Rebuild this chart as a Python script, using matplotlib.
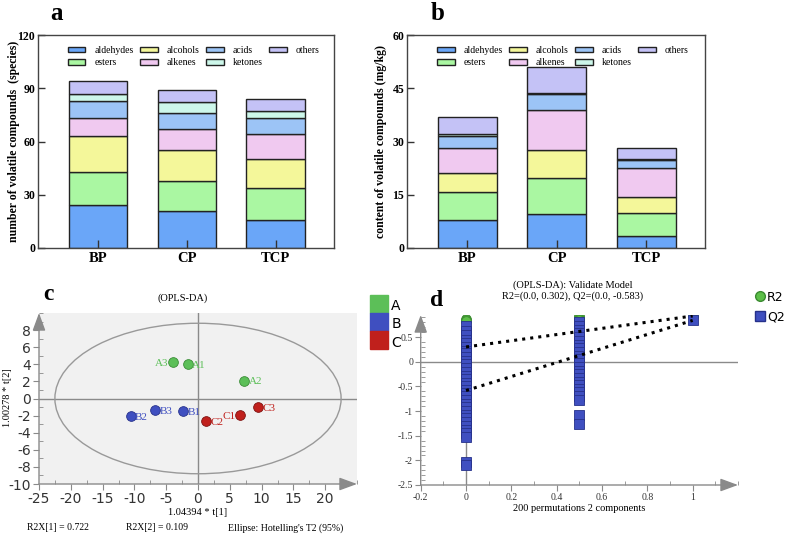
import numpy as np
import matplotlib
matplotlib.use('Agg')
import matplotlib.pyplot as plt
from matplotlib.lines import Line2D
from matplotlib.patches import Ellipse
from matplotlib.ticker import MultipleLocator, FormatStrFormatter

plt.rcParams['axes.unicode_minus'] = False

W, H = 788, 535
SERIF = 'Liberation Serif'

# panel a / b data
groups = ['BP', 'CP', 'TCP']
classes = ['aldehydes', 'esters', 'alcohols', 'alkenes', 'acids', 'ketones', 'others']
class_colors = ['#6aa6f8', '#aaf7a2', '#f4f79a', '#f0c9f0', '#9cc4f6', '#cdf7ea', '#c4c2f6']

aldehydes_n = [24, 21, 16]
esters_n = [19, 17, 18]
alcohols_n = [20, 17, 16]
alkenes_n = [10, 12, 14]
acids_n = [10, 9, 9]
ketones_n = [4, 6, 4]
others_n = [7, 7, 7]

aldehydes_c = [7.8, 9.5, 3.5]
esters_c = [8.0, 10.1, 6.3]
alcohols_c = [5.2, 8.1, 4.7]
alkenes_c = [7.2, 11.2, 8.1]
acids_c = [3.4, 4.4, 2.1]
ketones_c = [0.6, 0.5, 0.4]
others_c = [4.6, 7.1, 3.1]

# panel c data (OPLS-DA scores)
score_names = ['A1', 'A2', 'A3', 'B1', 'B2', 'B3', 'C1', 'C2', 'C3']
score_group = ['A', 'A', 'A', 'B', 'B', 'B', 'C', 'C', 'C']
t1 = [-1.6, 7.3, -4.0, -2.4, -10.6, -6.7, 6.6, 1.3, 9.4]
t2 = [4.0, 2.1, 4.3, -1.5, -2.05, -1.35, -1.9, -2.65, -1.05]
group_colors = {'A': '#5cbf58', 'B': '#3f4fc0', 'C': '#c0201c'}
group_edges = {'A': '#3a8c36', 'B': '#26318a', 'C': '#7d1210'}
label_left = ['A3', 'C1']

# panel d data (permutation test)
r2_x = [0, 0, 0, 0, 0, 0, 0, 0, 0.5, 0.5, 0.5, 0.5, 1]
r2_y = [0.86, 0.84, 0.82, 0.62, 0.58, 0.5, 0.42, 0.35, 0.92, 0.9, 0.87, 0.84, 0.93]
q2_x0 = [0.72, 0.62, 0.55, 0.45, 0.38, 0.3, 0.22, 0.17, 0.1, 0.02, -0.05, -0.12,
         -0.2, -0.28, -0.35, -0.42, -0.5, -0.57, -0.63, -0.7, -0.78, -0.85, -0.92,
         -1.0, -1.08, -1.15, -1.22, -1.3, -1.38, -1.45, -1.52, -2.03, -2.1]
q2_x05 = [0.8, 0.72, 0.65, 0.58, 0.5, 0.42, 0.35, 0.28, 0.2, 0.12, 0.05, -0.02,
          -0.1, -0.18, -0.25, -0.32, -0.4, -0.48, -0.55, -0.62, -0.7, -0.78,
          -1.07, -1.27]
q2_orig = 0.84
r2_line = [0.302, 0.93]
q2_line = [-0.583, 0.84]
line_x = [0, 1]

fig = plt.figure(figsize=(W / 100, H / 100), dpi=100)


def stacked(ax, series, ymax, step, ylabel, label_x):
    x = np.arange(len(groups))
    bottom = np.zeros(len(groups))
    for name, vals, col in zip(classes, series, class_colors):
        ax.bar(x, vals, 0.66, bottom=bottom, color=col, edgecolor='#222222',
               linewidth=1, label=name)
        bottom += np.array(vals)
    ax.set_xlim(-0.675, 2.655)
    ax.set_ylim(0, ymax)
    ax.set_yticks(np.arange(0, ymax + 1, step))
    ax.set_xticks(x)
    ax.set_xticklabels(groups)
    ax.tick_params(axis='x', direction='in', length=6, width=1, color='#333333', pad=3)
    ax.tick_params(axis='y', direction='in', length=5, width=1, color='#333333', pad=2)
    for lab in ax.get_xticklabels():
        lab.set_fontfamily(SERIF)
        lab.set_fontweight('bold')
        lab.set_fontsize(10.5)
    for lab in ax.get_yticklabels():
        lab.set_fontfamily(SERIF)
        lab.set_fontweight('bold')
        lab.set_fontsize(8.5)
    for sp in ax.spines.values():
        sp.set_color('#444444')
        sp.set_linewidth(1)
    ax.set_ylabel(ylabel, fontfamily=SERIF, fontweight='bold', fontsize=8.5)
    ax.yaxis.set_label_coords(label_x, 0.5)
    ax.legend(ncol=4, loc='upper left', bbox_to_anchor=(0.075, 0.985), frameon=False,
              prop={'family': SERIF, 'size': 7}, handlelength=1.8, handleheight=0.45,
              handletextpad=0.9, columnspacing=0.7, labelspacing=0.35, borderpad=0.3)


ax_a = fig.add_axes([38 / W, 1 - 248 / H, 296 / W, 213 / H])
stacked(ax_a, [aldehydes_n, esters_n, alcohols_n, alkenes_n, acids_n, ketones_n, others_n],
        120, 30, 'number of volatile compounds  (species)', -0.062)
fig.text(57 / W, 1 - 14 / H, 'a', fontfamily=SERIF, fontweight='bold', fontsize=18,
         ha='center', va='center')

ax_b = fig.add_axes([407 / W, 1 - 248 / H, 298 / W, 213 / H])
stacked(ax_b, [aldehydes_c, esters_c, alcohols_c, alkenes_c, acids_c, ketones_c, others_c],
        60, 15, 'content of volatile compounds (mg/kg)', -0.068)
fig.text(438 / W, 1 - 14 / H, 'b', fontfamily=SERIF, fontweight='bold', fontsize=18,
         ha='center', va='center')


def arrow_axes(ax):
    for sp in ax.spines.values():
        sp.set_visible(False)
    style = '-|>,head_length=0.6,head_width=0.22'
    kw = dict(arrowstyle=style, color='#8a8a8a', lw=1, mutation_scale=18,
              shrinkA=0, shrinkB=0)
    ax.annotate('', xy=(1, 0), xytext=(0, 0), xycoords='axes fraction', arrowprops=kw)
    ax.annotate('', xy=(0, 1), xytext=(0, 0), xycoords='axes fraction', arrowprops=kw)


# panel c
ax_c = fig.add_axes([39 / W, 1 - 484 / H, 318 / W, 171 / H])
ax_c.set_facecolor('#f1f1f1')
ax_c.set_xlim(-25, 25)
ax_c.set_ylim(-10, 10)
arrow_axes(ax_c)
ax_c.axhline(0, color='#8a8a8a', lw=1, zorder=1)
ax_c.axvline(0, color='#8a8a8a', lw=1, zorder=1)
ax_c.add_patch(Ellipse((0, 0), 45, 17.6, fill=False, edgecolor='#999999', lw=1, zorder=1))
for name, g, x, y in zip(score_names, score_group, t1, t2):
    ax_c.plot(x, y, 'o', ms=7, color=group_colors[g], mec=group_edges[g], mew=0.6, zorder=3)
    if name in label_left:
        ax_c.text(x - 0.7, y - 0.15, name, color=group_colors[g], fontfamily=SERIF,
                  fontsize=8, ha='right', va='center')
    else:
        ax_c.text(x + 0.7, y - 0.15, name, color=group_colors[g], fontfamily=SERIF,
                  fontsize=8, ha='left', va='center')
ax_c.set_xticks(np.arange(-25, 21, 5))
ax_c.set_yticks(np.arange(-10, 9, 2))
ax_c.xaxis.set_minor_locator(MultipleLocator(2.5))
ax_c.yaxis.set_minor_locator(MultipleLocator(1))
ax_c.tick_params(which='major', direction='out', length=4, color='#8a8a8a',
                 labelsize=10, labelcolor='#333333', pad=2)
ax_c.tick_params(which='minor', direction='in', length=3, color='#8a8a8a')
ax_c.set_xlabel('1.04394 * t[1]', fontfamily=SERIF, fontsize=7.5, labelpad=1)
fig.text(7 / W, 1 - 398 / H, '1.00278 * t[2]', fontfamily=SERIF, fontsize=7.5,
         rotation=90, ha='center', va='center')
fig.text(183 / W, 1 - 298 / H, '(OPLS-DA)', fontfamily=SERIF, fontsize=7.5,
         ha='center', va='center')
fig.text(48 / W, 1 - 295 / H, 'c', fontfamily=SERIF, fontweight='bold', fontsize=17,
         ha='center', va='center')
fig.text(27 / W, 1 - 528 / H, 'R2X[1] = 0.722', fontfamily=SERIF, fontsize=7,
         ha='left', va='center')
fig.text(126 / W, 1 - 528 / H, 'R2X[2] = 0.109', fontfamily=SERIF, fontsize=7,
         ha='left', va='center')
fig.text(228 / W, 1 - 528 / H, "Ellipse: Hotelling's T2 (95%)", fontfamily=SERIF,
         fontsize=7, ha='left', va='center')

c_handles = [Line2D([], [], ls='none', marker='s', ms=13.5, color=group_colors[g],
                    mec=group_colors[g]) for g in ['A', 'B', 'C']]
fig.legend(c_handles, ['A', 'B', 'C'], loc='upper left',
           bbox_to_anchor=(362 / W, 1 - 288 / H), frameon=False, fontsize=10,
           handlelength=1.0, handleheight=1.4, handletextpad=0.4, labelspacing=0.15,
           borderpad=0.2)

# panel d
ax_d = fig.add_axes([420.7 / W, 1 - 485 / H, 317.3 / W, 170 / H])
ax_d.set_xlim(-0.2, 1.2)
ax_d.set_ylim(-2.5, 0.95)
arrow_axes(ax_d)
ax_d.axhline(0, color='#8a8a8a', lw=1, zorder=1)
ax_d.axvline(0, color='#8a8a8a', lw=1, zorder=1)
ax_d.plot(r2_x, r2_y, 'o', ms=7, color='#5cbf48', mec='#3a8a30', mew=0.6, zorder=3)
ax_d.plot([0] * len(q2_x0), q2_x0, 's', ms=6.5, color='#3f4fc0', mec='#26318a',
          mew=0.6, zorder=4)
ax_d.plot([0.5] * len(q2_x05), q2_x05, 's', ms=6.5, color='#3f4fc0', mec='#26318a',
          mew=0.6, zorder=4)
ax_d.plot(1, q2_orig, 's', ms=6.5, color='#3f4fc0', mec='#26318a', mew=0.6, zorder=4)
ax_d.plot(line_x, r2_line, ':', color='black', lw=2.2, zorder=5)
ax_d.plot(line_x, q2_line, ':', color='black', lw=2.2, zorder=5)
ax_d.set_xticks(np.arange(-0.2, 1.01, 0.2))
ax_d.set_yticks(np.arange(-2.5, 0.51, 0.5))
ax_d.xaxis.set_minor_locator(MultipleLocator(0.1))
ax_d.yaxis.set_minor_locator(MultipleLocator(0.1))
ax_d.xaxis.set_major_formatter(FormatStrFormatter('%g'))
ax_d.yaxis.set_major_formatter(FormatStrFormatter('%g'))
ax_d.tick_params(which='major', direction='out', length=4, color='#8a8a8a',
                 labelsize=7, labelcolor='#333333', pad=1.5)
ax_d.tick_params(which='minor', direction='in', length=3, color='#8a8a8a')
for lab in ax_d.get_xticklabels() + ax_d.get_yticklabels():
    lab.set_fontfamily(SERIF)
ax_d.set_xlabel('200 permutations 2 components', fontfamily=SERIF, fontsize=7.5,
                labelpad=2)
fig.text(573 / W, 1 - 291 / H, '(OPLS-DA): Validate Model\nR2=(0.0, 0.302), Q2=(0.0, -0.583)',
         fontfamily=SERIF, fontsize=7.5, ha='center', va='center', linespacing=1.15)
fig.text(437 / W, 1 - 300 / H, 'd', fontfamily=SERIF, fontweight='bold', fontsize=17,
         ha='center', va='center')

d_handles = [Line2D([], [], ls='none', marker='o', ms=7, color='#5cbf48', mec='#3a8a30'),
             Line2D([], [], ls='none', marker='s', ms=6.5, color='#3f4fc0', mec='#26318a')]
fig.legend(d_handles, ['R2', 'Q2'], loc='upper left', bbox_to_anchor=(747 / W, 1 - 282 / H),
           frameon=False, fontsize=9, handlelength=0.6, handletextpad=0.3,
           labelspacing=0.55, borderpad=0.2)

fig.savefig('out.png', dpi=100)
